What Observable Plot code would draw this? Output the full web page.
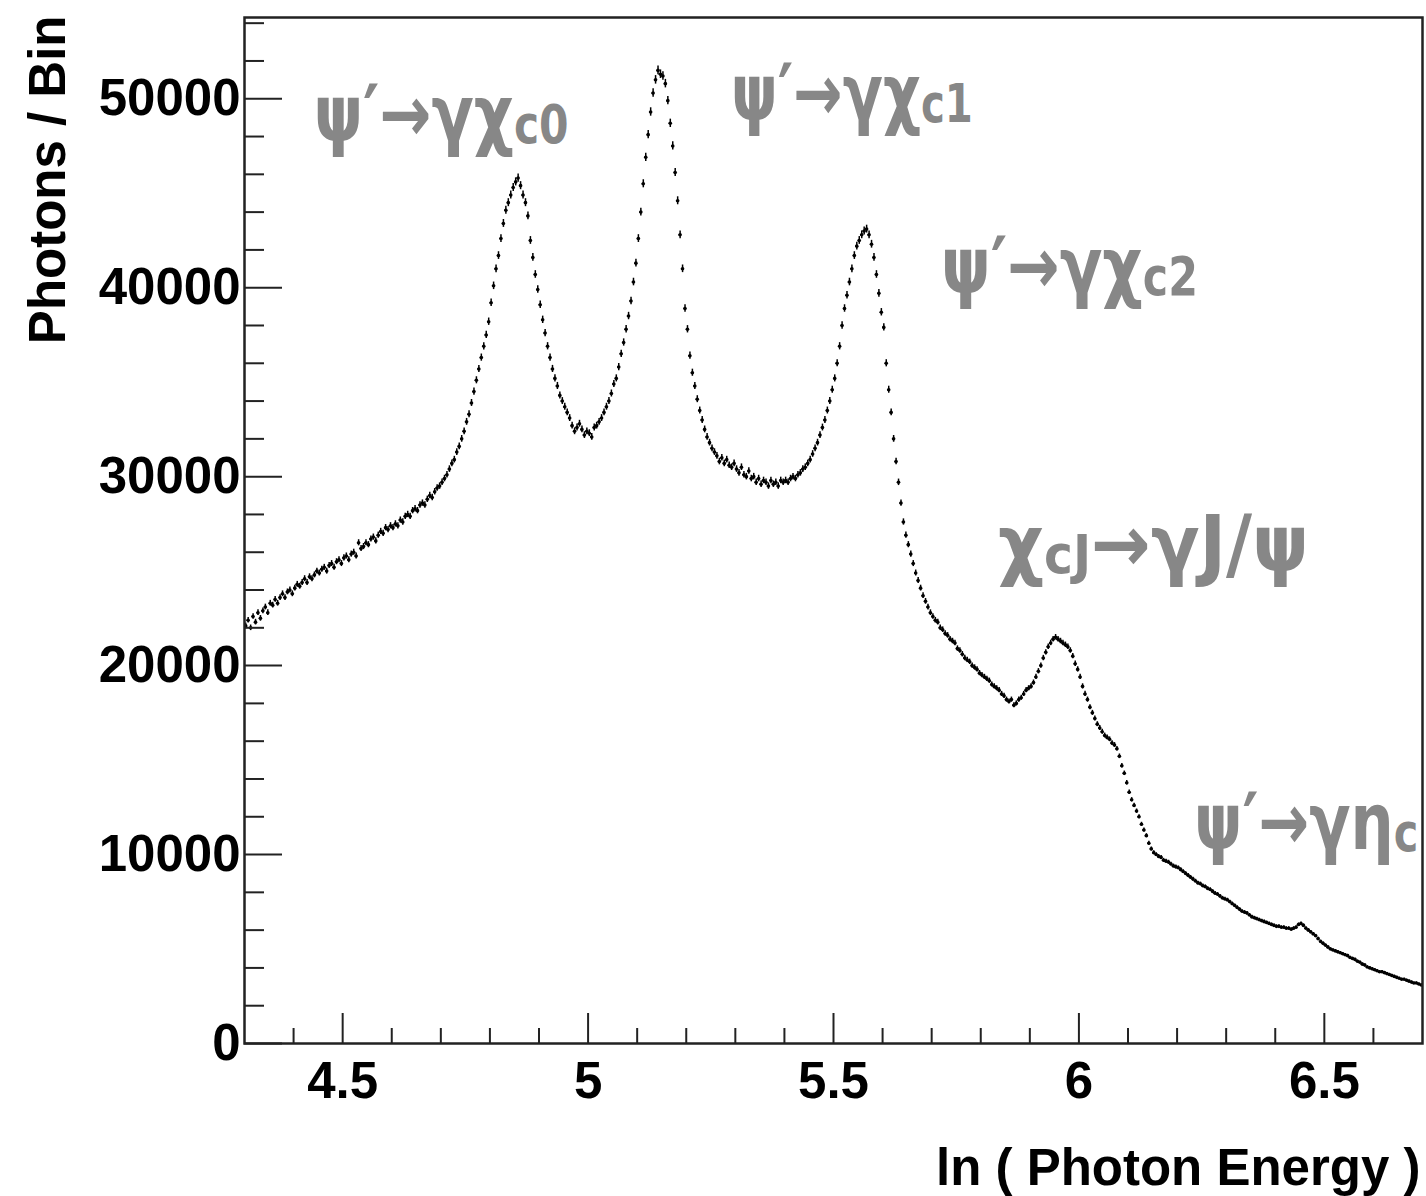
<!DOCTYPE html>
<html><head><meta charset="utf-8">
<script src="https://cdn.jsdelivr.net/npm/d3@7"></script>
<script src="https://cdn.jsdelivr.net/npm/@observablehq/plot@0.6"></script>
<style>
html,body{margin:0;padding:0;background:#fff;}
#chart svg{display:block;}
</style>
</head><body><div id="chart"></div>
<script>
// Histogram: ln(photon energy), bins of width 0.005 starting at 4.3
const binStart = 4.3;
const binWidth = 0.005;
const photons = [
  22100,22400,22000,22600,22300,22800,22500,22900,23100,22800,23300,23200,23500,23300,23600,23800,23600,23900,24000,23800,
  24100,24300,24200,24400,24600,24400,24700,24600,24800,25000,24900,25100,25200,25000,25300,25400,25200,25500,25600,25400,
  25700,25800,25600,25900,26000,25800,26500,26200,26300,26500,26400,26700,26800,26600,26900,27100,27000,27300,27200,27400,
  27300,27500,27400,27700,27600,27900,28000,27900,28200,28300,28200,28500,28600,28500,28800,29000,28900,29200,29400,29500,
  29700,29900,30100,30400,30700,30900,31300,31600,32000,32400,32900,33300,33900,34500,35100,35700,36300,36900,37500,38200,
  39200,40100,41000,41700,42600,43400,44100,44500,44900,45300,45600,45800,45400,44900,44500,43800,42500,41600,40700,39900,
  39100,38300,37600,36900,36300,35700,35200,34800,34300,34000,33700,33400,33100,32700,32400,32600,32800,32500,32200,32400,
  32300,32100,32600,32700,32900,33100,33400,33700,34000,34400,34900,35200,35800,36500,37100,37800,38500,39300,40300,41300,
  42600,44000,45500,46900,48100,49300,50300,51000,51500,51300,51200,50800,49900,48700,47500,46100,44600,42800,41000,38900,
  37800,36400,35500,34800,34100,33500,33000,32500,32100,31800,31500,31300,31100,30800,31000,30700,30900,30600,30500,30700,
  30400,30200,30500,30100,30000,30300,29900,30000,29700,29900,29600,29800,29700,29500,29800,29600,29700,29500,29800,29700,
  29800,29700,29900,30000,29900,30100,30200,30400,30500,30700,30900,31200,31500,31800,32200,32600,33000,33500,34000,34600,
  35200,36000,36900,38000,38900,39600,40300,41000,41700,42200,42500,42800,43000,43100,42800,42300,41600,40700,39700,38700,
  37900,36000,34600,33400,32000,30800,29700,28600,27600,26900,26400,25900,25400,24900,24500,24100,23700,23400,23100,22800,
  22600,22400,22300,22000,21900,21700,21600,21400,21300,21200,20900,20800,20600,20400,20300,20200,20000,19900,19800,19600,
  19500,19400,19300,19200,19000,18900,18800,18700,18500,18400,18200,18100,18200,17900,18000,18200,18300,18500,18700,18800,
  18900,19100,19400,19700,20000,20400,20700,21000,21200,21400,21500,21400,21300,21200,21100,21000,20800,20500,20100,19800,
  19400,18900,18500,18200,17800,17500,17200,16900,16700,16500,16300,16200,16100,15900,15800,15600,15200,14700,14300,13800,
  13300,12900,12600,12300,12000,11600,11300,11000,10600,10300,10100,10000,9900,9850,9700,9650,9600,9500,9400,9350,
  9300,9200,9100,9000,8900,8800,8700,8600,8500,8450,8350,8300,8200,8150,8050,7950,7900,7800,7700,7650,
  7600,7500,7400,7300,7200,7100,7000,6950,6900,6800,6700,6650,6600,6550,6500,6450,6400,6350,6300,6250,
  6200,6200,6150,6150,6100,6100,6050,6100,6150,6300,6350,6250,6100,6000,5900,5800,5700,5550,5400,5300,
  5200,5100,5000,4950,4900,4850,4800,4750,4700,4650,4550,4500,4450,4350,4300,4200,4150,4050,4000,3950,
  3900,3850,3800,3800,3750,3700,3650,3600,3550,3500,3450,3400,3400,3350,3300,3250,3200,3200,3150,3100
];

const xMajorTicks = [4.5, 5, 5.5, 6, 6.5];
const xMinorTicks = [4.4, 4.6, 4.7, 4.8, 4.9, 5.1, 5.2, 5.3, 5.4, 5.6, 5.7, 5.8, 5.9, 6.1, 6.2, 6.3, 6.4, 6.6];
const yMajorTicks = [0, 10000, 20000, 30000, 40000, 50000];
const yMinorTicks = [2000, 4000, 6000, 8000, 12000, 14000, 16000, 18000, 22000, 24000, 26000, 28000,
                     32000, 34000, 36000, 38000, 42000, 44000, 46000, 48000, 52000, 54000];

const xTitle = "ln ( Photon Energy )";
const yTitle = "Photons / Bin";

// Annotations: anchor (left, vertical middle) and text parts [text, isSubscript]
const annoX = [4.441, 5.291, 5.719, 5.835, 6.235];
const annoY = [49100, 50200, 41050, 26350, 11650];
const annoParts = [
  [["ψ′→γχ", false], ["c0", true]],
  [["ψ′→γχ", false], ["c1", true]],
  [["ψ′→γχ", false], ["c2", true]],
  [["χ", false], ["cJ", true], ["→γJ/ψ", false]],
  [["ψ′→γη", false], ["c", true]]
];
// rendered widths of the annotation labels (px), as in the reference
const annoWidth = [255, 242, 257, 311, 224];

const bins = photons.map((v, i) => ({x: binStart + (i + 0.5) * binWidth, y: v}));
const annoJoined = annoParts.map(p => p.map(s => s[0]).join(""));
const annoIdx = annoParts.map((_, i) => i);

const axisFont = "'Liberation Sans', Arial, Helvetica, sans-serif";
const annoFont = "'DejaVu Sans', sans-serif";
const noText = () => "";

const chart = Plot.plot({
  width: 1426, height: 1196,
  marginTop: 17, marginBottom: 153, marginLeft: 244, marginRight: 4,
  style: {background: "#fff", fontFamily: axisFont, overflow: "visible"},
  x: {domain: [4.3, 6.7], axis: null},
  y: {domain: [0, 54300], axis: null},
  marks: [
    Plot.ruleY(bins, {y: "y", x1: d => d.x - binWidth / 2, x2: d => d.x + binWidth / 2, stroke: "#000", strokeWidth: 1.5}),
    Plot.ruleX(bins, {x: "x", y1: d => d.y - Math.sqrt(d.y), y2: d => d.y + Math.sqrt(d.y), stroke: "#000", strokeWidth: 1.5}),
    Plot.dot(bins, {x: "x", y: "y", r: 1.8, fill: "#000"}),
    // inward ticks (negative tick size), no labels
    Plot.axisY({ticks: yMajorTicks, anchor: "left", tickSize: -38, tickFormat: noText, label: null, stroke: "#222", strokeWidth: 2}),
    Plot.axisY({ticks: yMinorTicks, anchor: "left", tickSize: -20, tickFormat: noText, label: null, stroke: "#222", strokeWidth: 2}),
    Plot.axisX({ticks: xMajorTicks, anchor: "bottom", tickSize: -30, tickFormat: noText, label: null, stroke: "#222", strokeWidth: 2}),
    Plot.axisX({ticks: xMinorTicks, anchor: "bottom", tickSize: -15, tickFormat: noText, label: null, stroke: "#222", strokeWidth: 2}),
    // tick labels
    Plot.axisY({ticks: yMajorTicks, anchor: "left", tickSize: 0, tickPadding: 4, tickFormat: d => String(d), label: null,
                fontSize: 51, fontWeight: "bold", fill: "#000"}),
    Plot.axisX({ticks: xMajorTicks, anchor: "bottom", tickSize: 0, tickPadding: 18, tickFormat: d => String(d), label: null,
                fontSize: 51, fontWeight: "bold", fill: "#000"}),
    Plot.frame({stroke: "#222", strokeWidth: 2.5}),
    Plot.text([yTitle], {frameAnchor: "top-left", rotate: -90, textAnchor: "end", dx: -216, dy: -2,
                         fontSize: 51, fontWeight: "bold", fill: "#000"}),
    Plot.text([xTitle], {frameAnchor: "bottom-right", textAnchor: "end", dx: -2, dy: 141,
                         fontSize: 51, fontWeight: "bold", fill: "#000"}),
    Plot.text(annoIdx, {x: i => annoX[i], y: i => annoY[i], text: i => annoJoined[i], textAnchor: "start",
                        fontSize: 79, fontWeight: "bold", fill: "#878787", fontFamily: annoFont})
  ]
});

document.getElementById("chart").appendChild(chart);

// Render subscripts inside the annotation labels, then squeeze each label horizontally to the reference width
const NS = "http://www.w3.org/2000/svg";
chart.querySelectorAll("text").forEach(t => {
  const k = annoJoined.indexOf(t.textContent);
  if (k < 0) return;
  t.textContent = "";
  let shifted = false;
  for (const [s, isSub] of annoParts[k]) {
    const ts = document.createElementNS(NS, "tspan");
    ts.textContent = s;
    if (isSub) {
      ts.setAttribute("font-size", 54);
      ts.setAttribute("dy", 2);
      shifted = true;
    } else if (shifted) {
      ts.setAttribute("dy", -2);
      shifted = false;
    }
    t.appendChild(ts);
  }
  const w = t.getBBox().width;
  const sx = w > 0 ? annoWidth[k] / w : 1;
  const tr = t.getAttribute("transform") || "";
  const x0 = +(t.getAttribute("x") || 0);
  t.setAttribute("transform", `${tr} translate(${x0},0) scale(${sx.toFixed(4)},1) translate(${-x0},0)`);
});
</script>
</body></html>
